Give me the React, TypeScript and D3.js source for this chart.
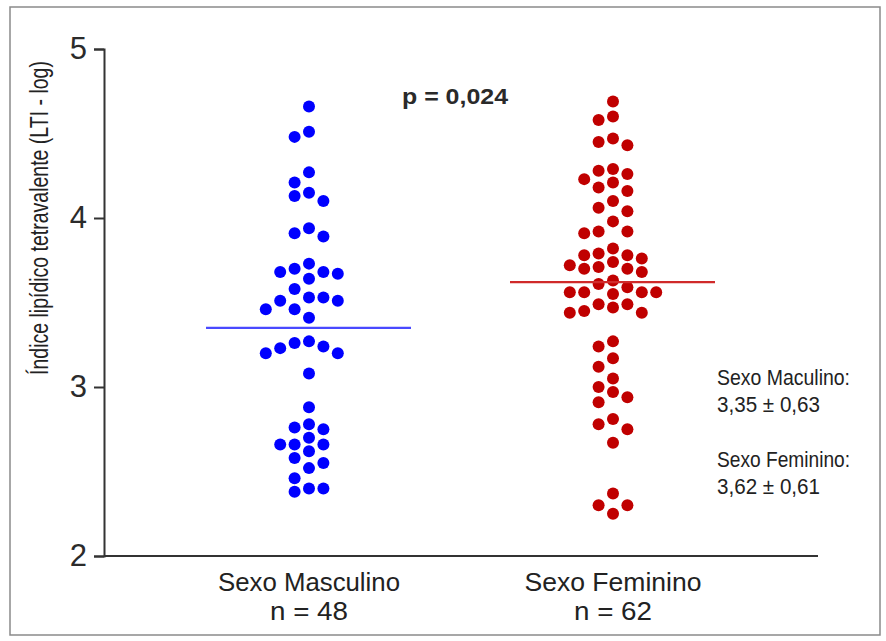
import React, { useEffect, useRef } from 'react';
import * as d3 from 'd3';

// values
const groups = ['Sexo Masculino', 'Sexo Feminino'];
const groupN = ['n = 48', 'n = 62'];
const means = [3.35, 3.62];
const statNames = ['Sexo Maculino:', 'Sexo Feminino:'];
const statTexts = ['3,35 ± 0,63', '3,62 ± 0,61'];
const pText = 'p = 0,024';
const yTicks = [2, 3, 4, 5];

const maleValues = [
  4.66, 4.51, 4.48, 4.27, 4.21, 4.13, 4.15, 4.10, 3.94, 3.89, 3.91, 3.73,
  3.68, 3.67, 3.64, 3.68, 3.70, 3.58, 3.53, 3.51, 3.51, 3.53, 3.46, 3.46,
  3.41, 3.26, 3.23, 3.20, 3.20, 3.24, 3.27, 3.08, 2.88, 2.76, 2.75, 2.78,
  2.70, 2.66, 2.62, 2.66, 2.66, 2.58, 2.55, 2.52, 2.46, 2.40, 2.38, 2.40
];

const femaleValues = [
  4.69, 4.60, 4.58, 4.47, 4.43, 4.45, 4.29, 4.26, 4.28, 4.23, 4.21, 4.16,
  4.18, 4.10, 4.06, 4.04, 3.98, 3.92, 3.91, 3.92, 3.82, 3.76, 3.78, 3.78,
  3.79, 3.72, 3.70, 3.68, 3.70, 3.71, 3.74, 3.59, 3.61, 3.63, 3.56, 3.56,
  3.55, 3.56, 3.56, 3.49, 3.45, 3.44, 3.44, 3.47, 3.49, 3.27, 3.24, 3.17,
  3.12, 3.05, 2.97, 2.91, 2.94, 3.00, 2.81, 2.78, 2.75, 2.67, 2.37, 2.30,
  2.30, 2.25
];

const dotColors = ['#0000ff', '#c00000'];
const lineColors = ['#4a4aff', '#d02a2a'];

const W = 886;
const H = 641;
const FONT = 'Liberation Sans, Arial, sans-serif';

const y = d3.scaleLinear().domain([2, 5]).range([556, 49]);
const x = d3.scalePoint<string>().domain(groups).range([309, 613]);

const colStep = 14.4;
const minGap = 12.5;

// simple column swarm: each point goes into the nearest free column
function swarm(values: number[], cx: number) {
  const sorted = [...values].sort((a, b) => b - a);
  const placed: { k: number; py: number }[] = [];
  const order = [0, -1, 1, -2, 2, -3, 3, -4, 4];
  return sorted.map(v => {
    const py = y(v);
    let k = 0;
    for (const c of order) {
      const hit = placed.some(p => p.k === c && Math.abs(p.py - py) < minGap);
      if (!hit) { k = c; break; }
    }
    placed.push({ k, py });
    return { x: cx + k * colStep, y: py };
  });
}

export default function App() {
  const axisRef = useRef<SVGGElement>(null);

  useEffect(() => {
    const g = d3.select(axisRef.current);
    g.selectAll('*').remove();
    g.call(d3.axisLeft(y).tickValues(yTicks).tickSize(10).tickSizeOuter(10).tickPadding(7).tickFormat(d3.format('d')));
    g.select('.domain').attr('stroke', '#333').attr('stroke-width', 2);
    g.selectAll('.tick line').attr('stroke', '#333').attr('stroke-width', 2);
    g.selectAll('.tick text')
      .attr('fill', '#2b2b2b')
      .attr('font-size', 31)
      .attr('font-family', FONT);
  }, []);

  const series = [maleValues, femaleValues];

  return (
    <svg width={W} height={H} style={{ position: 'absolute', left: 0, top: 0, background: '#fff' }}
      fontFamily={FONT}>
      <rect x={10} y={7} width={870} height={628} fill="#fff" stroke="#8a8a8a" strokeWidth={1.5} />

      {/* condensed look of the original's narrow font */}
      <text transform="translate(48,218) rotate(-90) scale(0.75,1)" textAnchor="middle" fontSize={26} fill="#222">
        Índice lipídico tetravalente (LTI - log)
      </text>

      <line x1={104} x2={818} y1={y(2)} y2={y(2)} stroke="#333" strokeWidth={2} />
      <g ref={axisRef} transform="translate(104,0)" />

      {series.map((vals, i) => {
        const cx = x(groups[i]) as number;
        return (
          <g key={groups[i]}>
            {swarm(vals, cx).map((p, j) => (
              <circle key={j} cx={p.x} cy={p.y} r={6} fill={dotColors[i]} />
            ))}
            <line x1={cx - 103} x2={cx + 102} y1={y(means[i])} y2={y(means[i])}
              stroke={lineColors[i]} strokeWidth={2.2} />
            <text x={cx} y={591} textAnchor="middle" fontSize={25} fill="#222"
              textLength={i === 0 ? 182 : 177} lengthAdjust="spacingAndGlyphs">{groups[i]}</text>
            <text x={cx} y={620} textAnchor="middle" fontSize={25} fill="#222"
              textLength={78} lengthAdjust="spacingAndGlyphs">{groupN[i]}</text>
          </g>
        );
      })}

      <text x={402} y={104} fontSize={22} fontWeight="bold" fill="#2a2a2a"
        textLength={106} lengthAdjust="spacingAndGlyphs">{pText}</text>

      {statNames.map((s, i) => (
        <g key={s}>
          <text x={717} y={385 + i * 82} fontSize={22} fill="#222"
            textLength={133} lengthAdjust="spacingAndGlyphs">{s}</text>
          <text x={717} y={412 + i * 82} fontSize={22} fill="#222"
            textLength={103} lengthAdjust="spacingAndGlyphs">{statTexts[i]}</text>
        </g>
      ))}
    </svg>
  );
}
